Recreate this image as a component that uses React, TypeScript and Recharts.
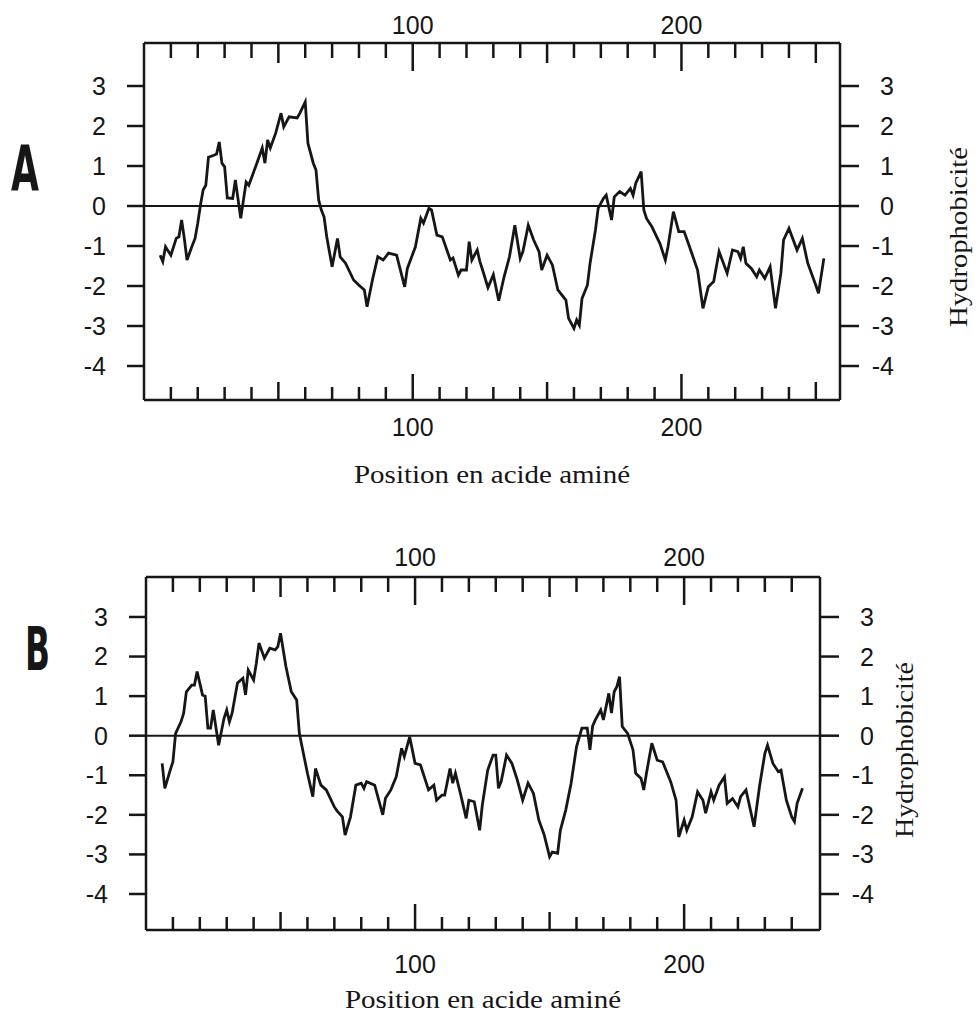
import { LineChart, Line, XAxis, YAxis, ReferenceLine } from "recharts";

// profil A (position, hydrophobicité)
const posA = [
  6, 7, 8, 10, 12, 13, 14, 15, 16, 18, 19, 20, 21, 22, 23, 24, 26, 27, 28, 29, 30, 31, 33, 34, 36, 38, 39,
  42, 44, 45, 46, 47, 49, 51, 52, 54, 57, 58, 60, 61, 63, 64, 65, 66, 67, 68, 70, 72, 73, 75, 78, 80, 82,
  83, 85, 87, 89, 91, 94, 97, 98, 101, 103, 104, 106, 107, 109, 111, 114, 115, 117, 118, 120, 121, 122,
  124, 125, 126, 128, 130, 132, 134, 136, 138, 140, 141, 143, 145, 147, 148, 150, 152, 154, 157, 158, 160,
  161, 162, 163, 165, 166, 168, 169, 171, 172, 174, 175, 177, 179, 181, 182, 183, 185, 186, 187, 189, 192,
  194, 195, 197, 199, 201, 203, 206, 208, 210, 212, 214, 217, 219, 221, 222, 223, 224, 226, 228, 229, 231,
  233, 235, 237, 238, 240, 243, 245, 247, 250, 251, 253,
];
const hydroA = [
  -1.23, -1.39, -1.02, -1.23, -0.81, -0.77, -0.35, -0.81, -1.35, -0.98, -0.81, -0.43, 0.02, 0.4, 0.52, 1.22,
  1.27, 1.3, 1.6, 1.07, 0.98, 0.2, 0.19, 0.65, -0.31, 0.6, 0.52, 1.07, 1.45, 1.07, 1.65, 1.45, 1.82, 2.32,
  1.98, 2.23, 2.2, 2.32, 2.6, 1.57, 1.07, 0.9, 0.15, -0.1, -0.27, -0.77, -1.52, -0.81, -1.27, -1.43, -1.85,
  -1.98, -2.1, -2.52, -1.85, -1.27, -1.35, -1.18, -1.23, -2.02, -1.56, -1.02, -0.31, -0.43, -0.06, -0.1,
  -0.73, -0.77, -1.35, -1.3, -1.73, -1.6, -1.6, -0.89, -1.35, -1.1, -1.39, -1.6, -2.04, -1.72, -2.37, -1.77,
  -1.27, -0.48, -1.31, -1.14, -0.48, -0.85, -1.14, -1.6, -1.23, -1.48, -2.1, -2.35, -2.81, -3.06, -2.85,
  -2.98, -2.31, -1.98, -1.43, -0.6, -0.06, 0.19, 0.27, -0.35, 0.23, 0.36, 0.27, 0.44, 0.27, 0.57, 0.86, -0.1,
  -0.31, -0.52, -0.94, -1.35, -1.02, -0.14, -0.64, -0.64, -1.02, -1.6, -2.56, -2.02, -1.89, -1.14, -1.68,
  -1.1, -1.14, -1.31, -1.02, -1.43, -1.56, -1.77, -1.6, -1.81, -1.52, -2.56, -1.68, -0.85, -0.56, -1.1,
  -0.81, -1.43, -1.98, -2.18, -1.31,
];

// profil B
const posB = [
  6, 7, 9, 10, 11, 13, 14, 15, 17, 18, 19, 21, 22, 23, 24, 25, 27, 29, 30, 31, 32, 34, 36, 37, 38, 40, 41,
  42, 44, 46, 48, 49, 50, 52, 54, 56, 57, 58, 60, 62, 63, 65, 67, 70, 71, 73, 74, 76, 78, 80, 81, 82, 85,
  88, 89, 91, 93, 95, 96, 98, 100, 102, 105, 107, 108, 110, 111, 113, 114, 115, 117, 119, 120, 122, 124,
  125, 127, 129, 130, 131, 132, 134, 136, 138, 140, 142, 144, 146, 148, 150, 151, 153, 154, 156, 158, 160,
  162, 164, 165, 166, 167, 169, 170, 172, 173, 174, 175, 176, 177, 179, 181, 182, 184, 185, 186, 188, 190,
  192, 195, 197, 198, 200, 201, 203, 205, 207, 208, 210, 211, 213, 215, 216, 218, 220, 221, 223, 226, 228,
  230, 231, 233, 235, 236, 238, 240, 241, 242, 244,
];
const hydroB = [
  -0.7, -1.33, -0.87, -0.66, 0.06, 0.35, 0.57, 1.11, 1.28, 1.28, 1.62, 1.03, 1.0, 0.19, 0.19, 0.65, -0.24,
  0.44, 0.65, 0.35, 0.57, 1.33, 1.45, 1.03, 1.66, 1.41, 1.83, 2.34, 1.96, 2.21, 2.17, 2.25, 2.59, 1.75, 1.11,
  0.9, 0.06, -0.28, -0.95, -1.54, -0.83, -1.25, -1.37, -1.8, -1.9, -2.05, -2.51, -2.05, -1.25, -1.2, -1.33,
  -1.16, -1.25, -2.0, -1.58, -1.37, -1.04, -0.32, -0.53, -0.03, -0.7, -0.74, -1.37, -1.25, -1.63, -1.5, -1.5,
  -0.83, -1.2, -0.95, -1.5, -2.09, -1.63, -1.67, -2.39, -1.75, -0.87, -0.49, -0.49, -1.33, -1.16, -0.49, -0.7,
  -1.12, -1.63, -1.2, -1.46, -2.13, -2.51, -3.06, -2.94, -2.97, -2.39, -1.88, -1.2, -0.28, 0.19, 0.19, -0.36,
  0.25, 0.4, 0.65, 0.4, 1.07, 0.57, 1.11, 1.24, 1.49, 0.23, 0.06, -0.36, -0.95, -1.08, -1.37, -0.95, -0.19,
  -0.62, -0.66, -1.16, -1.63, -2.56, -2.13, -2.39, -2.05, -1.42, -1.63, -1.96, -1.42, -1.63, -1.25, -1.04,
  -1.71, -1.59, -1.8, -1.54, -1.37, -2.3, -1.29, -0.45, -0.24, -0.7, -0.91, -0.87, -1.63, -2.05, -2.17, -1.71,
  -1.33,
];

const yTicks = [-4, -3, -2, -1, 0, 1, 2, 3];
const xTicksA = [10, 20, 30, 40, 50, 60, 70, 80, 90, 100, 110, 120, 130, 140, 150, 160, 170, 180, 190, 200, 210, 220, 230, 240, 250];
const xTicksB = [10, 20, 30, 40, 50, 60, 70, 80, 90, 100, 110, 120, 130, 140, 150, 160, 170, 180, 190, 200, 210, 220, 230, 240];

const INK = "#161616";
const SANS = "'Liberation Sans', Arial, Helvetica, sans-serif";
const SERIF = "'Liberation Serif', 'Times New Roman', serif";

const xTick = (side: "top" | "bottom", gap: number) => (props: any) => {
  const { x, y, payload } = props;
  const v = payload.value;
  const lens = side === "top" ? [15, 20, 28] : [13, 18, 26];
  const len = v % 100 === 0 ? lens[2] : v % 50 === 0 ? lens[1] : lens[0];
  const dir = side === "top" ? 1 : -1;
  return (
    <g>
      <line x1={x} x2={x} y1={y} y2={y + dir * len} stroke={INK} strokeWidth={2.5} />
      {v % 100 === 0 && (
        <text
          x={x}
          y={side === "top" ? y - gap : y + gap}
          textAnchor="middle"
          fontFamily={SANS}
          fontSize={25}
          fill={INK}
        >
          {v}
        </text>
      )}
    </g>
  );
};

const rightTick = (props: any) => {
  const { x, y, payload } = props;
  return (
    <text x={x + 35} y={y} dy={9} textAnchor="end" fontFamily={SANS} fontSize={25} fill={INK}>
      {payload.value}
    </text>
  );
};

interface PanelProps {
  pos: number[];
  hydro: number[];
  xMax: number;
  xTicks: number[];
  yDomain: [number, number];
  width: number;
  height: number;
  top: number;
  topH: number;
  bottomH: number;
  leftW: number;
  rightW: number;
  topGap: number;
  bottomGap: number;
}

const Panel = (p: PanelProps) => {
  const data = p.pos.map((x, i) => ({ pos: x, h: p.hydro[i] }));
  return (
    <div style={{ position: "absolute", left: 0, top: p.top }}>
      <LineChart width={p.width} height={p.height} data={data} margin={{ top: 0, right: 0, bottom: 0, left: 0 }}>
        <XAxis
          xAxisId="bottom"
          dataKey="pos"
          type="number"
          orientation="bottom"
          domain={[0, p.xMax]}
          ticks={p.xTicks}
          interval={0}
          height={p.bottomH}
          tickSize={0}
          tickMargin={0}
          tickLine={false}
          axisLine={{ stroke: INK, strokeWidth: 2.5 }}
          tick={xTick("bottom", p.bottomGap)}
        />
        <XAxis
          xAxisId="top"
          dataKey="pos"
          type="number"
          orientation="top"
          domain={[0, p.xMax]}
          ticks={p.xTicks}
          interval={0}
          height={p.topH}
          tickSize={0}
          tickMargin={0}
          tickLine={false}
          axisLine={{ stroke: INK, strokeWidth: 2.5 }}
          tick={xTick("top", p.topGap)}
        />
        <YAxis
          yAxisId="left"
          dataKey="h"
          type="number"
          domain={p.yDomain}
          ticks={yTicks}
          interval={0}
          width={p.leftW}
          tickSize={17}
          tickMargin={21}
          tickLine={{ stroke: INK, strokeWidth: 2.5 }}
          axisLine={{ stroke: INK, strokeWidth: 2.5 }}
          tick={{ fill: INK, fontSize: 25, fontFamily: SANS }}
        />
        <YAxis
          yAxisId="right"
          dataKey="h"
          orientation="right"
          type="number"
          domain={p.yDomain}
          ticks={yTicks}
          interval={0}
          width={p.rightW}
          tickSize={19}
          tickMargin={0}
          tickLine={{ stroke: INK, strokeWidth: 2.5 }}
          axisLine={{ stroke: INK, strokeWidth: 2.5 }}
          tick={rightTick}
        />
        <ReferenceLine xAxisId="bottom" yAxisId="left" y={0} stroke={INK} strokeWidth={2} />
        <Line
          xAxisId="bottom"
          yAxisId="left"
          type="linear"
          dataKey="h"
          stroke={INK}
          strokeWidth={2.8}
          dot={false}
          isAnimationActive={false}
        />
        {/* invisible twin so the right axis gets its ticks */}
        <Line
          xAxisId="top"
          yAxisId="right"
          type="linear"
          dataKey="h"
          stroke="none"
          strokeWidth={0}
          dot={false}
          activeDot={false}
          isAnimationActive={false}
        />
      </LineChart>
    </div>
  );
};

export default function App() {
  return (
    <div style={{ position: "absolute", left: 0, top: 0, width: 980, height: 1014, background: "#fff" }}>
      <Panel
        pos={posA}
        hydro={hydroA}
        xMax={259}
        xTicks={xTicksA}
        yDomain={[-4.85, 4.075]}
        width={980}
        height={500}
        top={0}
        topH={43}
        bottomH={100}
        leftW={144}
        rightW={140}
        topGap={9}
        bottomGap={36}
      />
      <Panel
        pos={posB}
        hydro={hydroB}
        xMax={250.5}
        xTicks={xTicksB}
        yDomain={[-4.91, 4.01]}
        width={980}
        height={494}
        top={520}
        topH={57}
        bottomH={84}
        leftW={146}
        rightW={160}
        topGap={11}
        bottomGap={43}
      />
      <svg
        width={980}
        height={1014}
        style={{ position: "absolute", left: 0, top: 0, pointerEvents: "none" }}
      >
        <text x={11} y={190} fontFamily="'Liberation Sans Narrow', 'DejaVu Sans Condensed', sans-serif" fontWeight="bold" fontSize={63} textLength={28} lengthAdjust="spacingAndGlyphs" fill={INK}>
          A
        </text>
        <text x={25} y={670} fontFamily="'Liberation Sans Narrow', 'DejaVu Sans Condensed', sans-serif" fontWeight="bold" fontSize={60} textLength={25} lengthAdjust="spacingAndGlyphs" fill={INK}>
          B
        </text>
        <text x={492} y={483} textAnchor="middle" fontFamily={SERIF} fontSize={26} textLength={276} lengthAdjust="spacingAndGlyphs" fill={INK}>
          Position en acide aminé
        </text>
        <text x={483} y={1008} textAnchor="middle" fontFamily={SERIF} fontSize={26} textLength={276} lengthAdjust="spacingAndGlyphs" fill={INK}>
          Position en acide aminé
        </text>
        <text transform="translate(967,237) rotate(-90)" textAnchor="middle" fontFamily={SERIF} fontSize={26} textLength={180} lengthAdjust="spacingAndGlyphs" fill={INK}>
          Hydrophobicité
        </text>
        <text transform="translate(913,750) rotate(-90)" textAnchor="middle" fontFamily={SERIF} fontSize={26} textLength={176} lengthAdjust="spacingAndGlyphs" fill={INK}>
          Hydrophobicité
        </text>
      </svg>
    </div>
  );
}
